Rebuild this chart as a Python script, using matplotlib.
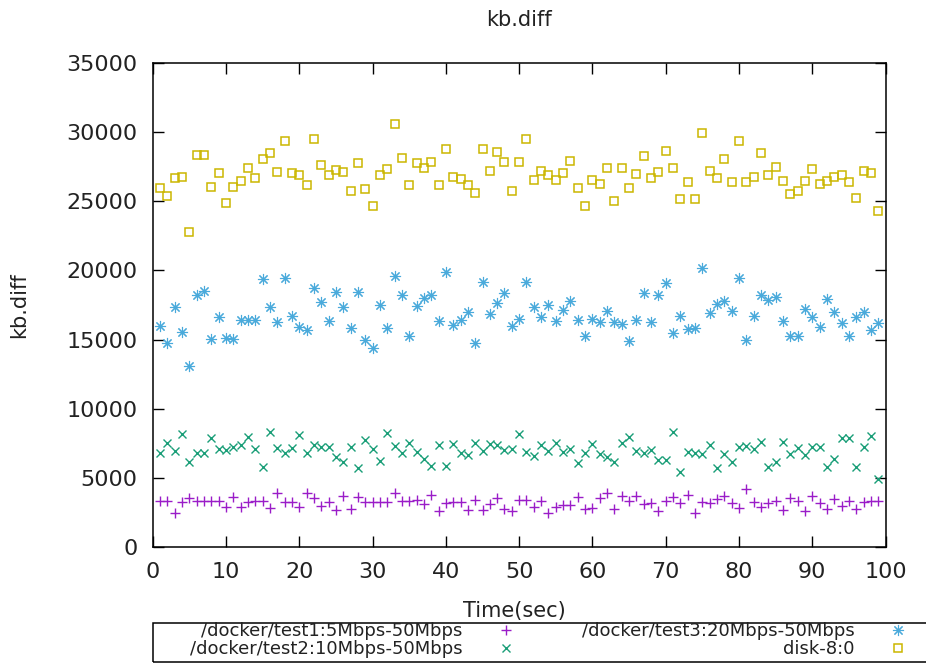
import numpy as np
import matplotlib
matplotlib.use('Agg')
import matplotlib.pyplot as plt
from matplotlib.patches import Rectangle

# sample times (sec)
time_sec = list(range(1, 100))

# /docker/test1:5Mbps-50Mbps
test1 = [3330, 3330, 2460, 3250, 3540, 3330, 3330, 3330, 3330, 2890,
         3620, 2890, 3250, 3330, 3330, 2820, 3900, 3250, 3250, 2890,
         3900, 3540, 2960, 3250, 2670, 3690, 2750, 3620, 3250, 3250,
         3250, 3250, 3900, 3330, 3330,
         3400, 3110, 3760, 2600, 3180, 3250, 3250, 2670, 3400, 2670,
         3110, 3540, 2750, 2600, 3400, 3400, 2890, 3330, 2460, 2890,
         3040, 3040, 3620, 2750, 2820, 3540, 3900, 2750, 3690, 3330,
         3690, 3110, 3180, 2600,
         3330, 3620, 3180, 3760, 2460, 3250, 3180, 3470, 3690, 3180,
         2820, 4190, 3250, 2890, 3180, 3330, 2670, 3540, 3330, 2600,
         3690, 3180, 2750, 3470, 2960, 3330, 2750, 3250, 3330, 3330]

# /docker/test2:10Mbps-50Mbps
test2 = [6800, 7520, 6940, 8170, 6150, 6800, 6800, 7880, 7090, 7010,
         7230, 7370, 7950, 7090, 5780, 8310, 7160, 6800, 7160, 8100,
         6800, 7370, 7230, 7230, 6510, 6150, 7230, 5710, 7740, 7090,
         6220, 8240, 7300, 6800, 7520,
         6870, 6360, 5860, 7370, 5860, 7450, 6800, 6650, 7520, 6940,
         7450, 7370, 7010, 7090, 8170, 6870, 6580, 7370, 6940, 7520,
         6870, 7090, 6070, 6800, 7450, 6720, 6510, 6150, 7520, 7950,
         6940, 6800, 7010, 6290,
         6290, 8310, 5420, 6870, 6800, 6720, 7370, 5710, 6720, 6150,
         7230, 7300, 7090, 7590, 5780, 6150, 7590, 6720, 7160, 6650,
         7230, 7230, 5780, 6360, 7880, 7880, 5780, 7230, 8020, 4920]

# /docker/test3:20Mbps-50Mbps
test3 = [15980, 14750, 17350, 15540, 13090, 18220, 18510, 15040, 16630, 15110,
         15040, 16410, 16410, 16410, 19380, 17350, 16270, 19450, 16700, 15910,
         15690, 18730, 17710, 16340, 18440, 17350, 15830, 18440, 14970, 14390,
         17500, 15830, 19590, 18220, 15260,
         17420, 18000, 18220, 16340, 19880, 16050, 16410, 16990, 14750, 19160,
         16850, 17640, 18360, 15980, 16480, 19160, 17350, 16630, 17500, 16340,
         17130, 17790, 16410, 15260, 16480, 16270, 17060, 16270, 16120, 14890,
         16410, 18360, 16270, 18220,
         19090, 15470, 16700, 15760, 15830, 20170, 16920, 17570, 17790, 17060,
         19450, 14970, 16700, 18220, 17860, 18070, 16340, 15260, 15260, 17210,
         16630, 15910, 17930, 16990, 16200, 15260, 16630, 16990, 15690, 16200]

# disk-8:0
disk = [25960, 25380, 26680, 26750, 22770, 28340, 28340, 26030, 27040, 24870,
        26030, 26460, 27400, 26680, 28050, 28490, 27110, 29350, 27040, 26900,
        26170, 29500, 27620, 26900, 27260, 27110, 25740, 27760, 25880, 24650,
        26900, 27330, 30580, 28120, 26170,
        27760, 27400, 27830, 26170, 28770, 26750, 26610, 26170, 25590, 28770,
        27180, 28560, 27830, 25740, 27830, 29500, 26540, 27180, 26900, 26540,
        27040, 27910, 25950, 24650, 26540, 26240, 27400, 25020, 27400, 25950,
        26970, 28270, 26680, 27110,
        28630, 27400, 25160, 26390, 25160, 29930, 27180, 26680, 28050, 26390,
        29350, 26390, 26750, 28490, 26900, 27470, 26460, 25520, 25740, 26460,
        27330, 26240, 26460, 26750, 26900, 26390, 25230, 27180, 27040, 24290]

labels = ['/docker/test1:5Mbps-50Mbps', '/docker/test2:10Mbps-50Mbps',
          '/docker/test3:20Mbps-50Mbps', 'disk-8:0']
x_ticks = [0, 10, 20, 30, 40, 50, 60, 70, 80, 90, 100]
y_ticks = [0, 5000, 10000, 15000, 20000, 25000, 30000, 35000]

plt.rcParams['font.family'] = ['DejaVu Sans']

fig = plt.figure(figsize=(9.26, 6.64), dpi=100)
ax = fig.add_axes([152.7 / 926, 1 - 547 / 664, (885.6 - 152.7) / 926, (547 - 63) / 664])

# gnuplot-like point styles
ax.plot(time_sec, test1, linestyle='none', marker='+', ms=7, mew=1.0,
        color='#9a1cc8', label=labels[0])
ax.plot(time_sec, test2, linestyle='none', marker='x', ms=6, mew=1.0,
        color='#1a9e78', label=labels[1])
ax.plot(time_sec, test3, linestyle='none', marker=(8, 2, 0), ms=8, mew=0.8,
        color='#4aaadb', label=labels[2])
ax.plot(time_sec, disk, linestyle='none', marker='s', ms=5.5, mew=1.1,
        mfc='none', color='#cbb600', label=labels[3])

ax.set_xlim(0, 100)
ax.set_ylim(0, 35000)
ax.set_xticks(x_ticks)
ax.set_yticks(y_ticks)
ax.tick_params(direction='in', length=8, width=1, top=True, right=True,
               labelsize=16, pad=11, colors='black', labelcolor='#222222')
for sp in ax.spines.values():
    sp.set_linewidth(1.1)

ax.set_title('kb.diff', fontsize=15, pad=27, color='#222222')
ax.set_ylabel('kb.diff', fontsize=15, color='#222222')
ax.yaxis.set_label_coords(-0.168, 0.5)
ax.set_xlabel('Time(sec)', fontsize=15, color='#222222')
ax.xaxis.set_label_coords(0.4935, -0.112)

# legend below the plot, text on the left of each marker
leg = fig.legend(loc='upper left', bbox_to_anchor=(190 / 926, 1 - 622 / 664),
                 ncol=2, markerfirst=False, frameon=False, fontsize=13,
                 borderpad=0, borderaxespad=0, handlelength=1.0,
                 handletextpad=1.9, columnspacing=3.7, labelspacing=0.0,
                 numpoints=1, labelcolor='#222222')
fig.add_artist(Rectangle((153 / 926, 2 / 664), 800 / 926, 39 / 664,
                         transform=fig.transFigure, fill=False,
                         edgecolor='black', linewidth=1.1, clip_on=False))

fig.savefig('out.png', dpi=100)
plt.close(fig)
